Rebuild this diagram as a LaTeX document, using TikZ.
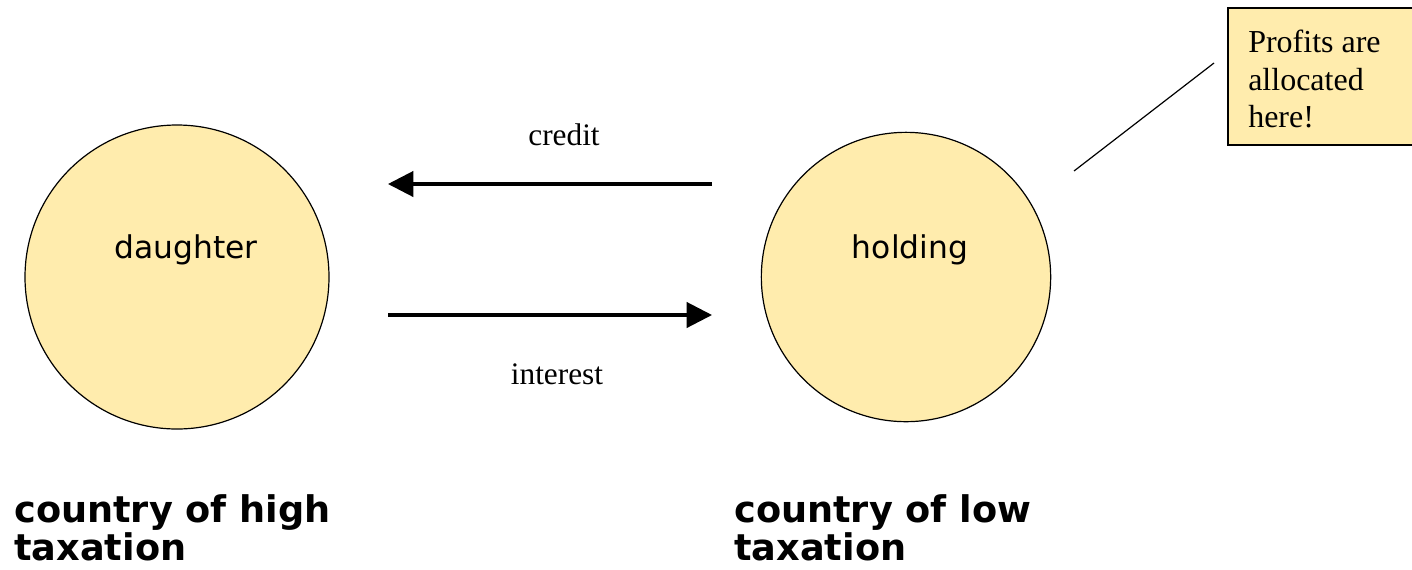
\documentclass[tikz,border=0pt]{standalone}
\usepackage{fontspec}
\setmainfont{Liberation Serif}
\setsansfont{DejaVu Sans}
\usetikzlibrary{arrows.meta}
\definecolor{paleyellow}{RGB}{255,236,173}
\begin{document}
\begin{tikzpicture}[x=0.75pt,y=0.75pt,yscale=-1,xscale=1,
  firm/.style={circle,draw,fill=paleyellow,line width=0.9pt,inner sep=0pt},
  firmlabel/.style={anchor=base,font=\sffamily\fontsize{23.5}{28}\selectfont},
  flow/.style={line width=2.3pt,-{Triangle[length=19pt,width=19pt]}},
  flowlabel/.style={anchor=base,font=\fontsize{23.5}{28}\selectfont},
  region/.style={anchor=north west,align=left,inner sep=0pt,font=\sffamily\bfseries\fontsize{27.5}{28.5}\selectfont}]
\useasboundingbox (0,0) rectangle (1412,569);

%Shape: Circle
\node (daughter) [firm,minimum size=228pt] at (177,277) {};
%Shape: Circle
\node (holding) [firm,minimum size=217pt] at (906,277) {};
% Text Node
\node (daughtername) [firmlabel] at (186,258) {daughter};
% Text Node
\node (holdingname) [firmlabel] at (910,258) {holding};

%Straight Lines
\coordinate (creditstart) at (712,184);
\coordinate (creditend) at (388,184);
\draw [flow] (creditstart) -- (creditend);
%Straight Lines
\coordinate (intereststart) at (388,315);
\coordinate (interestend) at (712,315);
\draw [flow] (intereststart) -- (interestend);

% Text Node
\node (credit) [flowlabel] at (564,145) {credit};
% Text Node
\node (interest) [flowlabel] at (557,384) {interest};

%Shape: Rectangle
\draw [fill=paleyellow,line width=0.9pt] (1228,8) -- (1420,8) -- (1420,145) -- (1228,145) -- cycle ;
% Text Node
\node (note) [anchor=north west,align=left,inner sep=0pt,font=\fontsize{24}{28}\selectfont] at (1248,30) {Profits are\\allocated\\here!};
%Straight Lines
\coordinate (pointer) at (1074,171);
\coordinate (pointerend) at (1214,63);
\draw [line width=0.9pt] (pointer) -- (pointerend) ;

% Text Node
\node (hightax) [region] at (14,494) {country of high\\taxation};
% Text Node
\node (lowtax) [region] at (734,494) {country of low\\taxation};

\end{tikzpicture}
\end{document}
